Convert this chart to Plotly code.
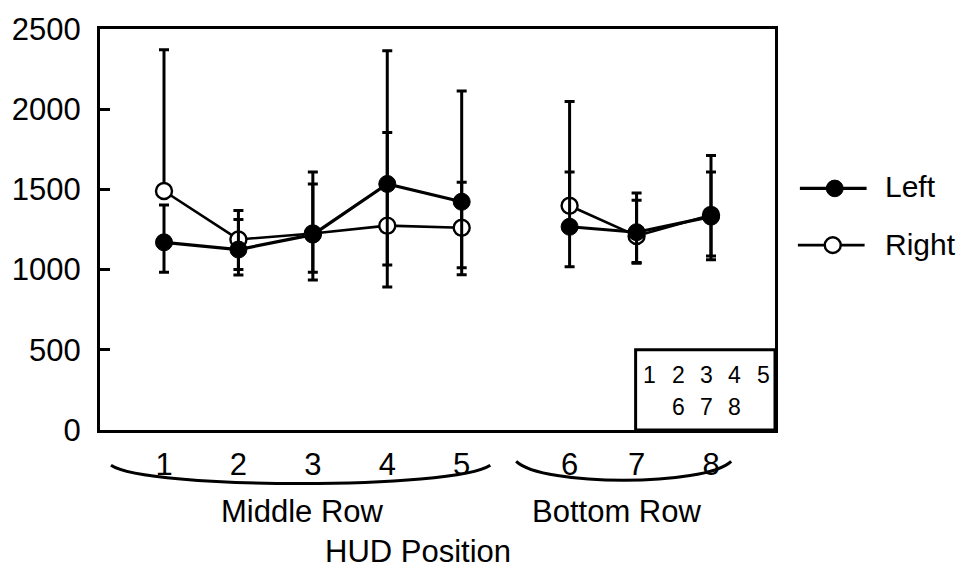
import plotly.graph_objects as go

# ---------------- data ----------------
hud_positions = ["1", "2", "3", "4", "5", "6", "7", "8"]
x_slot = [1, 2, 3, 4, 5, 6.45, 7.35, 8.35]          # axis units along HUD Position
row_groups = [("Middle Row", 0, 5), ("Bottom Row", 5, 8)]

left_mean = [1170, 1125, 1218, 1534, 1423, 1267, 1233, 1330]
left_upper = [1403, 1312, 1534, 1855, 1545, 1609, 1432, 1609]
left_lower = [983, 966, 935, 1028, 1011, 1017, 1045, 1062]

right_mean = [1490, 1188, 1225, 1274, 1261, 1398, 1210, 1340]
right_upper = [2371, 1369, 1609, 2365, 2113, 2048, 1477, 1711]
right_lower = [1490, 1000, 983, 892, 968, 1398, 1040, 1085]

y_ticks = [0, 500, 1000, 1500, 2000, 2500]
inset_row1 = ["1", "2", "3", "4", "5"]
inset_row2 = ["6", "7", "8"]
inset_row2_cols = [1, 2, 3]

FONT = "Liberation Sans, Arial, Helvetica, sans-serif"

# ---------------- geometry helpers (pixel -> paper) ----------------
W, H = 959, 569
L, R, T, B = 97, 775, 20, 430


def px(x):
    return (x - L) / (R - L)


def py(y):
    return (B - y) / (B - T)


fig = go.Figure()


def add_series(mean, upper, lower, name, marker, line_w):
    for gi, (_, s, e) in enumerate(row_groups):
        xs = x_slot[s:e]
        ys = mean[s:e]
        plus = [u - m for u, m in zip(upper[s:e], ys)]
        minus = [m - l for m, l in zip(ys, lower[s:e])]
        fig.add_trace(go.Scatter(
            x=xs, y=ys, mode="lines+markers", name=name,
            legendgroup=name, showlegend=False,
            line=dict(color="black", width=line_w),
            marker=marker,
            error_y=dict(type="data", symmetric=False, array=plus,
                         arrayminus=minus, color="black",
                         thickness=3, width=5),
            cliponaxis=False,
        ))


add_series(right_mean, right_upper, right_lower, "Right",
           dict(symbol="circle", size=16, color="white",
                line=dict(color="black", width=2.4)), 2.6)
add_series(left_mean, left_upper, left_lower, "Left",
           dict(symbol="circle", size=17, color="black",
                line=dict(color="black", width=1)), 3.2)

shapes = []
annotations = []

# inset box (HUD layout)
shapes.append(dict(type="rect", xref="paper", yref="paper",
                   x0=px(635), x1=px(775), y0=py(430), y1=py(348),
                   line=dict(color="black", width=3), fillcolor="white",
                   layer="above"))
col_x0, col_step = 649, 28.6
for i, t in enumerate(inset_row1):
    annotations.append(dict(x=px(col_x0 + i * col_step), y=py(374), xref="paper", yref="paper",
                            text=t, showarrow=False, xanchor="center", yanchor="middle",
                            font=dict(family=FONT, size=23, color="black")))
for c, t in zip(inset_row2_cols, inset_row2):
    annotations.append(dict(x=px(col_x0 + c * col_step), y=py(406), xref="paper", yref="paper",
                            text=t, showarrow=False, xanchor="center", yanchor="middle",
                            font=dict(family=FONT, size=23, color="black")))

# braces under the tick labels
shapes.append(dict(type="path", xref="paper", yref="paper",
                   path=f"M {px(108)},{py(466)} C {px(145)},{py(491)} {px(452)},{py(491)} {px(489)},{py(466)}",
                   line=dict(color="black", width=3)))
shapes.append(dict(type="path", xref="paper", yref="paper",
                   path=f"M {px(515)},{py(462)} C {px(542)},{py(488)} {px(704)},{py(488)} {px(731)},{py(462)}",
                   line=dict(color="black", width=3)))

for label, cx in [("Middle Row", 300), ("Bottom Row", 616)]:
    annotations.append(dict(x=px(cx), y=py(513), xref="paper", yref="paper", text=label,
                            showarrow=False, xanchor="center", yanchor="middle",
                            font=dict(family=FONT, size=31, color="black")))
annotations.append(dict(x=px(416), y=py(554), xref="paper", yref="paper", text="HUD Position",
                        showarrow=False, xanchor="center", yanchor="middle",
                        font=dict(family=FONT, size=31, color="black")))

# manual legend
shapes.append(dict(type="line", xref="paper", yref="paper",
                   x0=px(800), x1=px(867), y0=py(183), y1=py(183),
                   line=dict(color="black", width=3.2)))
shapes.append(dict(type="circle", xref="paper", yref="paper",
                   x0=px(826.5), x1=px(843.5), y0=py(191.5), y1=py(174.5),
                   fillcolor="black", line=dict(color="black", width=1)))
shapes.append(dict(type="line", xref="paper", yref="paper",
                   x0=px(798), x1=px(865), y0=py(241), y1=py(241),
                   line=dict(color="black", width=2.6)))
shapes.append(dict(type="circle", xref="paper", yref="paper",
                   x0=px(825), x1=px(841), y0=py(249), y1=py(233),
                   fillcolor="white", line=dict(color="black", width=2.4)))
annotations.append(dict(x=px(883), y=py(181), xref="paper", yref="paper", text="Left",
                        showarrow=False, xanchor="left", yanchor="middle",
                        font=dict(family=FONT, size=30, color="black")))
annotations.append(dict(x=px(883), y=py(240), xref="paper", yref="paper", text="Right",
                        showarrow=False, xanchor="left", yanchor="middle",
                        font=dict(family=FONT, size=30, color="black")))

fig.update_layout(
    width=W, height=H,
    margin=dict(l=L, r=W - R, t=T, b=H - B),
    paper_bgcolor="white", plot_bgcolor="white",
    showlegend=False,
    shapes=shapes, annotations=annotations,
    font=dict(family=FONT, color="black"),
    xaxis=dict(range=[0.14, 9.21], tickmode="array", tickvals=x_slot, ticktext=hud_positions,
               ticks="", showgrid=False, zeroline=False, showline=True, mirror=True,
               linecolor="black", linewidth=3, ticklabelstandoff=5,
               tickfont=dict(family=FONT, size=31, color="black")),
    yaxis=dict(range=[0, 2500], tickmode="array", tickvals=y_ticks,
               ticks="inside", ticklen=10, tickwidth=2.5, tickcolor="black",
               showgrid=False, zeroline=False, showline=True, mirror=True,
               linecolor="black", linewidth=3, ticklabelstandoff=10,
               tickfont=dict(family=FONT, size=31, color="black")),
)

fig.write_html("out.html")
